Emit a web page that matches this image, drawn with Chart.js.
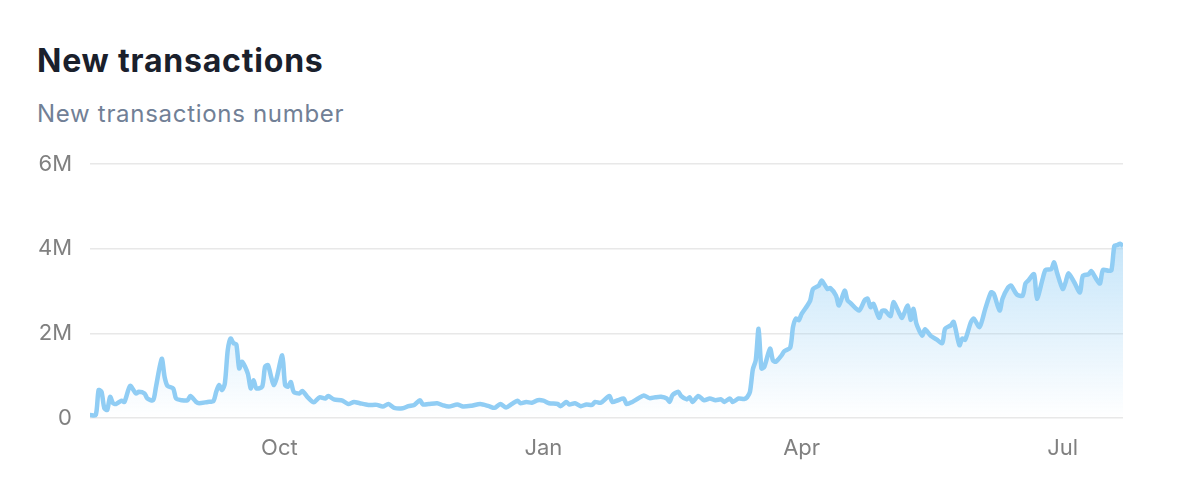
<!DOCTYPE html>
<html>
<head>
<meta charset="utf-8">
<title>New transactions</title>
<script src="https://cdn.jsdelivr.net/npm/chart.js@4.4.0/dist/chart.umd.min.js"></script>
<style>
    html, body {
        margin: 0;
        padding: 0;
        background: #ffffff;
        width: 1200px;
        height: 497px;
        overflow: hidden;
        font-family: Inter, "Noto Sans", sans-serif;
    }
    .title {
        position: absolute;
        left: 37px;
        top: 41px;
        margin: 0;
        font-size: 32px;
        letter-spacing: 0.8px;
        font-weight: 700;
        color: #1a202c;
        line-height: 40px;
    }
    .subtitle {
        position: absolute;
        left: 37px;
        top: 99px;
        margin: 0;
        font-size: 24px;
        letter-spacing: 0.7px;
        color: #718096;
        line-height: 30px;
    }
    .chart-box {
        position: absolute;
        left: 0;
        top: 133px;
        width: 1200px;
        height: 364px;
    }
</style>
</head>
<body>
<h2 class="title">New transactions</h2>
<p class="subtitle">New transactions number</p>
<div class="chart-box"><canvas id="txChart"></canvas></div>

<script>
// day 0 = Jul 27, last day = Jul 22 of next year
const days = [
    0, 2, 3, 4, 5, 6, 7, 8, 9, 11, 12, 14, 16, 17, 19, 20, 22, 23, 25, 26,
    27, 29, 30, 32, 34, 35, 37, 38, 41, 43, 44, 45, 46, 47, 48, 49, 50, 51, 52, 53,
    55, 56, 57, 58, 60, 61, 62, 63, 64, 65, 67, 68, 69, 70, 71, 73, 74, 76, 78, 80,
    82, 83, 85, 88, 90, 92, 94, 97, 100, 102, 104, 106, 109, 111, 113, 115, 116, 118, 121, 123,
    125, 128, 130, 133, 136, 139, 141, 143, 145, 147, 149, 150, 152, 154, 156, 158, 160, 163, 164, 166,
    167, 169, 171, 173, 175, 176, 178, 181, 182, 184, 186, 187, 189, 191, 193, 195, 197, 199, 201, 202,
    203, 205, 206, 208, 209, 210, 212, 214, 216, 218, 220, 221, 223, 224, 226, 228, 229, 230, 231, 232,
    233, 234, 235, 237, 238, 239, 241, 242, 244, 245, 246, 247, 248, 250, 251, 252, 254, 255, 257, 258,
    260, 261, 263, 264, 265, 268, 270, 271, 272, 273, 275, 276, 277, 279, 280, 282, 283, 285, 286, 287,
    288, 290, 291, 293, 295, 297, 298, 300, 301, 303, 304, 305, 307, 308, 310, 312, 314, 315, 317, 318,
    320, 321, 323, 325, 326, 327, 329, 330, 332, 333, 335, 336, 337, 339, 340, 341, 343, 345, 346, 348,
    349, 351, 352, 353, 355, 356, 357, 358, 359, 360
];

// new transactions, millions
const values = [
    0.07, 0.07, 0.66, 0.62, 0.23, 0.19, 0.50, 0.35, 0.33, 0.41, 0.38, 0.76, 0.58, 0.62, 0.58, 0.46, 0.42, 0.74, 1.40, 0.97,
    0.76, 0.70, 0.46, 0.42, 0.42, 0.52, 0.38, 0.35, 0.38, 0.40, 0.62, 0.78, 0.66, 0.82, 1.60, 1.88, 1.77, 1.74, 1.17, 1.33,
    1.05, 0.70, 0.89, 0.70, 0.74, 1.21, 1.25, 1.01, 0.78, 0.93, 1.48, 0.78, 0.74, 0.85, 0.62, 0.58, 0.64, 0.48, 0.37, 0.49,
    0.46, 0.52, 0.44, 0.41, 0.33, 0.38, 0.35, 0.31, 0.31, 0.27, 0.33, 0.24, 0.23, 0.28, 0.31, 0.42, 0.32, 0.33, 0.35, 0.30,
    0.27, 0.32, 0.27, 0.29, 0.33, 0.28, 0.24, 0.33, 0.25, 0.33, 0.41, 0.35, 0.38, 0.36, 0.42, 0.41, 0.35, 0.33, 0.28, 0.38,
    0.32, 0.35, 0.28, 0.32, 0.31, 0.38, 0.36, 0.52, 0.38, 0.42, 0.46, 0.33, 0.38, 0.46, 0.53, 0.47, 0.49, 0.50, 0.46, 0.38,
    0.54, 0.62, 0.52, 0.44, 0.49, 0.38, 0.52, 0.42, 0.46, 0.42, 0.44, 0.38, 0.46, 0.38, 0.46, 0.45, 0.49, 0.62, 1.15, 1.36,
    2.11, 1.17, 1.21, 1.64, 1.36, 1.33, 1.48, 1.58, 1.66, 2.15, 2.35, 2.31, 2.46, 2.66, 2.78, 3.05, 3.13, 3.25, 3.05, 3.07,
    2.89, 2.66, 3.01, 2.78, 2.72, 2.54, 2.79, 2.82, 2.62, 2.70, 2.37, 2.53, 2.54, 2.41, 2.74, 2.48, 2.37, 2.66, 2.32, 2.58,
    2.23, 1.95, 2.10, 1.94, 1.86, 1.77, 2.11, 2.19, 2.27, 1.72, 1.88, 1.85, 2.27, 2.35, 2.15, 2.58, 2.97, 2.93, 2.54, 2.82,
    3.09, 3.13, 2.92, 2.89, 3.18, 3.25, 3.40, 2.82, 3.29, 3.50, 3.52, 3.68, 3.44, 3.05, 3.21, 3.42, 3.21, 2.97, 3.36, 3.40,
    3.47, 3.25, 3.18, 3.50, 3.48, 3.50, 4.07, 4.09, 4.12, 4.07
];

// tick positions (day index) and their labels
const monthTicks = [66, 158, 248, 339];
const monthLabels = ['Oct', 'Jan', 'Apr', 'Jul'];
const yTicks = [0, 2, 4, 6];
const yLabels = ['0', '2M', '4M', '6M'];

const points = days.map((d, i) => ({x: d, y: values[i]}));

const ctx = document.getElementById('txChart');

const myChart = new Chart(ctx, {
    type: 'line',
    data: {
        datasets: [{
                label: 'New transactions',
                data: points,
                borderColor: '#90cdf4',
                borderWidth: 4.5,
                pointRadius: 0,
                tension: 0.25,
                fill: 'origin',
                backgroundColor: (context) => {
                    const area = context.chart.chartArea;
                    if (!area) {
                        return 'rgba(144, 205, 244, 0.3)';
                    }
                    const g = context.chart.ctx.createLinearGradient(0, area.top, 0, area.bottom);
                    g.addColorStop(0, 'rgba(144, 205, 244, 0.75)');
                    g.addColorStop(1, 'rgba(144, 205, 244, 0)');
                    return g;
                }
            }]
    },
    options: {
        responsive: true,
        maintainAspectRatio: false,
        animation: false,
        layout: {
            padding: {top: 16, right: 77, left: 37, bottom: 0}
        },
        plugins: {
            legend: {display: false},
            tooltip: {enabled: false}
        },
        scales: {
            x: {
                type: 'linear',
                min: 0,
                max: 360,
                grid: {display: false, drawTicks: false},
                border: {display: false},
                afterBuildTicks: (scale) => {
                    scale.ticks = monthTicks.map(v => ({value: v}));
                },
                afterFit: (scale) => {
                    scale.height = 79;
                },
                ticks: {
                    padding: 17,
                    maxRotation: 0,
                    autoSkip: false,
                    color: '#808080',
                    font: {family: 'Inter', size: 22},
                    callback: (value) => monthLabels[monthTicks.indexOf(value)]
                }
            },
            y: {
                min: 0,
                max: 6,
                grid: {color: '#e8e8e8', lineWidth: 1.5, drawTicks: false},
                border: {display: false},
                afterBuildTicks: (scale) => {
                    scale.ticks = yTicks.map(v => ({value: v}));
                },
                afterFit: (scale) => {
                    scale.width = 53;
                },
                ticks: {
                    padding: 18,
                    color: '#808080',
                    font: {family: 'Inter', size: 22},
                    callback: (value) => yLabels[yTicks.indexOf(value)]
                }
            }
        }
    }
});
</script>
</body>
</html>
